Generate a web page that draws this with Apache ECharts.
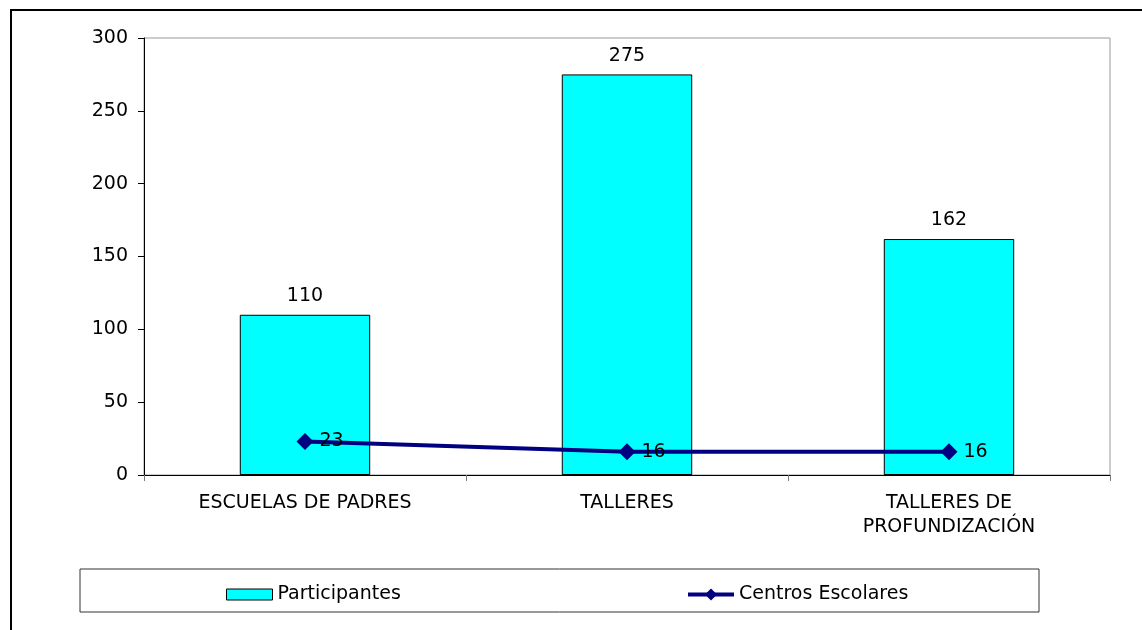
<!DOCTYPE html>
<html>
<head>
<meta charset="utf-8">
<script src="https://cdn.jsdelivr.net/npm/echarts@6/dist/echarts.min.js"></script>
<style>
  html, body { margin: 0; padding: 0; background: #fff; }
  #main { width: 1142px; height: 630px; }
</style>
</head>
<body>
<div id="main"></div>
<script>
var categories = ['ESCUELAS DE PADRES', 'TALLERES', 'TALLERES DE\nPROFUNDIZACIÓN'];
var participantes = [110, 275, 162];
var centros = [23, 16, 16];
var yTicks = { min: 0, max: 300, interval: 50 };

var fontFamily = '"DejaVu Sans", Verdana, sans-serif';
var chart = echarts.init(document.getElementById('main'));

var option = {
  animation: false,
  textStyle: { fontFamily: fontFamily },
  grid: {
    left: 144,
    right: 32,
    top: 38,
    bottom: 155,
    show: true,
    borderColor: '#999',
    borderWidth: 1
  },
  graphic: [
    {
      type: 'rect',
      z: -1,
      shape: { x: 11, y: 10, width: 1200, height: 700 },
      style: { fill: 'none', stroke: '#000', lineWidth: 2 }
    },
    {
      type: 'rect',
      z: -1,
      shape: { x: 80, y: 569, width: 959, height: 43 },
      style: { fill: '#fff', stroke: '#333', lineWidth: 1 }
    }
  ],
  legend: [
    {
      data: [{ name: 'Participantes', icon: 'rect' }],
      left: 221,
      top: 580,
      itemWidth: 46,
      itemHeight: 11,
      itemGap: 8,
      itemStyle: { borderColor: '#000', borderWidth: 1 },
      textStyle: { fontSize: 19, color: '#000', fontFamily: fontFamily }
    },
    {
      data: ['Centros Escolares'],
      left: 681,
      top: 580,
      itemWidth: 46,
      itemHeight: 15,
      itemGap: 8,
      lineStyle: { width: 4, color: '#000080' },
      textStyle: { fontSize: 19, color: '#000', fontFamily: fontFamily }
    }
  ],
  xAxis: {
    type: 'category',
    data: categories,
    axisLine: { lineStyle: { color: '#000', width: 1 } },
    axisTick: { show: true, length: 6, lineStyle: { color: '#777' } },
    axisLabel: {
      color: '#000',
      fontSize: 19,
      margin: 16,
      lineHeight: 24,
      fontFamily: fontFamily
    }
  },
  yAxis: {
    type: 'value',
    min: yTicks.min,
    max: yTicks.max,
    interval: yTicks.interval,
    axisLine: { show: true, lineStyle: { color: '#000', width: 1 } },
    axisTick: { show: true, length: 6, lineStyle: { color: '#000' } },
    splitLine: { show: false },
    axisLabel: { color: '#000', fontSize: 19, margin: 16, fontFamily: fontFamily }
  },
  series: [
    {
      name: 'Participantes',
      type: 'bar',
      data: participantes,
      barWidth: '40.5%',
      itemStyle: { color: '#00ffff', borderColor: '#000', borderWidth: 1 },
      label: {
        show: true,
        position: 'top',
        distance: 9,
        color: '#000',
        fontSize: 19,
        fontFamily: fontFamily
      }
    },
    {
      name: 'Centros Escolares',
      type: 'line',
      data: centros,
      symbol: 'diamond',
      symbolSize: [17, 17],
      lineStyle: { color: '#000080', width: 4 },
      itemStyle: { color: '#000080' },
      label: {
        show: true,
        position: 'right',
        distance: 6,
        color: '#000',
        fontSize: 19,
        fontFamily: fontFamily
      }
    }
  ]
};

chart.setOption(option);
</script>
</body>
</html>
